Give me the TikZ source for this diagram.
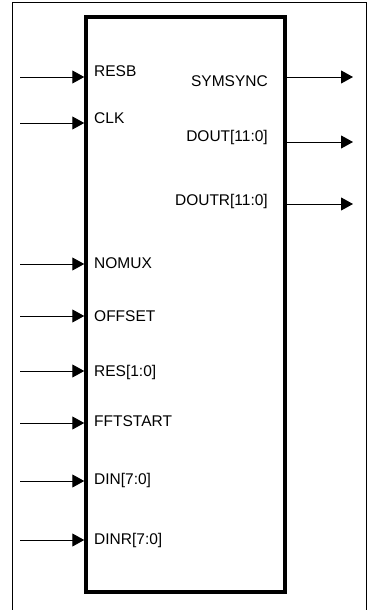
\documentclass[tikz,border=0pt]{standalone}
\usepackage{fontspec}
\setmainfont{Liberation Sans}
\usetikzlibrary{arrows.meta}
\begin{document}
\begin{tikzpicture}[x=1pt,y=-1pt,
  lbl/.style={font=\fontsize{15.5}{18}\selectfont, inner sep=0pt},
  sig/.style={line width=1pt, -{Triangle[length=12pt,width=13pt]}},
  blockbox/.style={draw, line width=3.5pt, minimum width=199pt, minimum height=575pt, inner sep=0pt}]
\useasboundingbox (0,0) rectangle (371,610);
\draw[line width=1pt] (12,612) -- (12,3) -- (366,3) -- (366,612);
\node[blockbox] (box) at (185.5,304.5) {};
% inputs
\foreach \n/\t/\ya/\yb in {resb/RESB/77/77, clk/CLK/123/123, nomux/NOMUX/264/268.5,
  offset/OFFSET/316/321.5, res/{RES[1:0]}/371/376.5, fft/FFTSTART/423/426,
  din/{DIN[7:0]}/481/484, dinr/{DINR[7:0]}/540/544}{
  \coordinate (s\n) at (20,\ya);
  \draw[sig] (s\n) -- (s\n -| box.west);
  \node[lbl, anchor=base west] (l\n) at (94,\yb) {\t};
}
% outputs
\foreach \n/\t/\ya/\yb in {sym/SYMSYNC/77/86.7, dout/{DOUT[11:0]}/142/141.7, doutr/{DOUTR[11:0]}/204/205.7}{
  \coordinate (e\n) at (353,\ya);
  \draw[sig] (e\n -| box.east) -- (e\n);
  \node[lbl, anchor=base east] (l\n) at (268,\yb) {\t};
}
\end{tikzpicture}
\end{document}
